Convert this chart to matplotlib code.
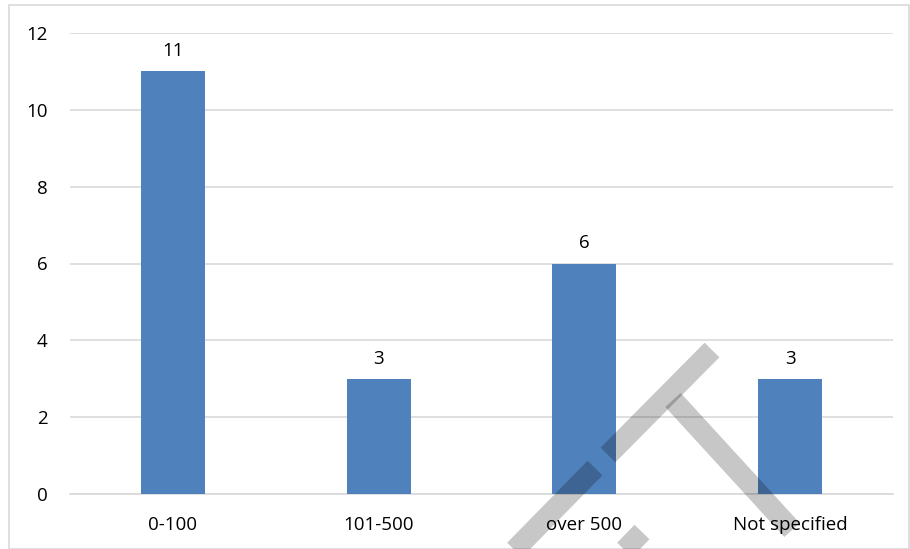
import matplotlib
matplotlib.use("Agg")
import matplotlib.pyplot as plt
from matplotlib.patches import Rectangle
from matplotlib.lines import Line2D

categories = ["0-100", "101-500", "over 500", "Not specified"]
values = [11, 3, 6, 3]
yticks = [0, 2, 4, 6, 8, 10, 12]

plt.rcParams['font.family'] = ['Open Sans', 'DejaVu Sans']

W, H = 910, 549
fig = plt.figure(figsize=(W / 100, H / 100), dpi=100)
fig.patch.set_facecolor("white")

# outer chart border
fig.add_artist(Rectangle((9 / W, 0 / H), 900 / W, (H - 5) / H, transform=fig.transFigure,
                         fill=False, edgecolor="#D9D9D9", lw=1.2))

ax = fig.add_axes([70 / W, 1 - 494 / H, (893 - 70) / W, (494 - 33) / H])
x = range(len(categories))
bars = ax.bar(x, values, width=0.31, color="#4F81BD", zorder=3)
ax.bar_label(bars, labels=[str(v) for v in values], padding=8, fontsize=13.5, color="#000000")

ax.set_xlim(-0.5, len(categories) - 0.5)
ax.set_ylim(0, 12)
ax.set_yticks(yticks)
ax.set_yticklabels([str(t) for t in yticks])
ax.set_xticks(list(x))
ax.set_xticklabels(categories)
ax.tick_params(axis="y", length=0, pad=16, labelsize=13.5, labelcolor="#000000")
ax.tick_params(axis="x", length=0, pad=15.5, labelsize=13.5, labelcolor="#000000")
ax.grid(axis="y", color="#D9D9D9", lw=1.2, zorder=0)
for s in ["top", "right", "left"]:
    ax.spines[s].set_visible(False)
ax.spines["bottom"].set_color("#D9D9D9")
ax.spines["bottom"].set_linewidth(1.2)

# watermark strokes (pixel coords, y from top)
strokes = [
    ((712, 350), (608, 455)),
    ((595, 468), (495, 570)),
    ((673, 400), (792, 530)),
    ((642, 532), (615, 560)),
]
for (x0, y0), (x1, y1) in strokes:
    fig.add_artist(Line2D([x0 / W, x1 / W], [1 - y0 / H, 1 - y1 / H], transform=fig.transFigure,
                          color="black", alpha=0.22, lw=15, solid_capstyle="butt", zorder=10))

fig.savefig("out.png", dpi=100)
